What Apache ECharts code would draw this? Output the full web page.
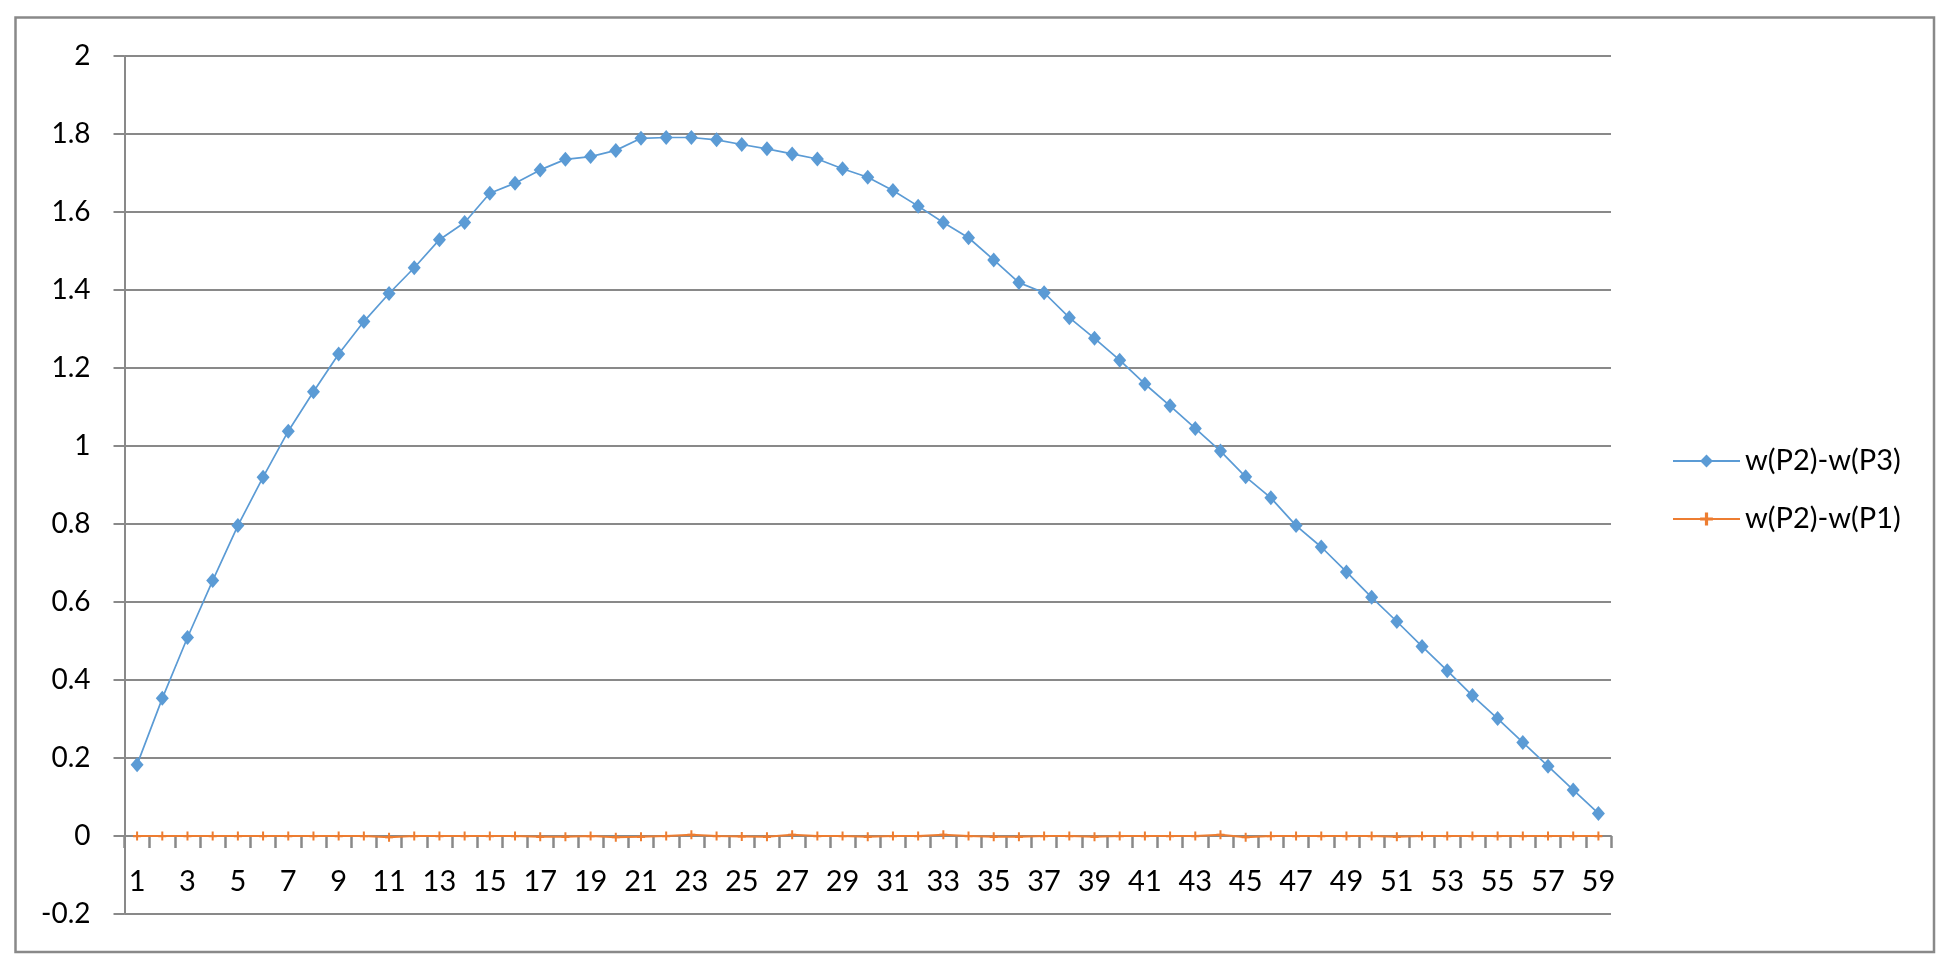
<!DOCTYPE html>
<html>
<head>
<meta charset="utf-8">
<script src="https://cdn.jsdelivr.net/npm/echarts@6/dist/echarts.min.js"></script>
<style>
html,body{margin:0;padding:0;background:#fff;}
#chart{width:1953px;height:965px;}
</style>
</head>
<body>
<div id="chart"></div>
<script>
const categories = ['1','2','3','4','5','6','7','8','9','10','11','12','13','14','15','16','17','18','19','20',
  '21','22','23','24','25','26','27','28','29','30','31','32','33','34','35','36','37','38','39','40',
  '41','42','43','44','45','46','47','48','49','50','51','52','53','54','55','56','57','58','59'];

const seriesNames = ['w(P2)-w(P3)', 'w(P2)-w(P1)'];

const p2MinusP3 = [0.183,0.353,0.509,0.655,0.796,0.920,1.038,1.139,1.236,1.319,
  1.391,1.457,1.529,1.573,1.648,1.674,1.708,1.735,1.742,1.758,
  1.789,1.791,1.791,1.785,1.773,1.762,1.749,1.736,1.711,1.689,
  1.655,1.615,1.573,1.534,1.477,1.419,1.393,1.329,1.276,1.220,
  1.159,1.103,1.045,0.987,0.921,0.867,0.796,0.741,0.677,0.612,
  0.550,0.486,0.424,0.360,0.301,0.240,0.179,0.118,0.058];

const p2MinusP1 = [0,0,0,0,0,0,0,0,0,0,
  -0.003,0,0,0,0,0,-0.002,-0.002,0,-0.003,
  -0.002,0,0.003,0,-0.001,-0.002,0.003,0,0,-0.002,
  0,0,0.003,0,-0.002,-0.002,0,0,-0.002,0,
  0,0,0,0.003,-0.003,0,0,0,0,0,
  -0.002,0,0,0,0,0,0,0,0];

const yMin = -0.2, yMax = 2, yStep = 0.2;

const gray = '#898989';
const font = 'Lato, "Liberation Sans", sans-serif';
const plusSymbol = 'path://M3,0h2v3h3v2h-3v3h-2v-3h-3v-2h3z';

const chart = echarts.init(document.getElementById('chart'), null, {renderer:'canvas'});
chart.setOption({
  animation: false,
  backgroundColor: '#ffffff',
  graphic: [{
    type: 'rect',
    shape: {x: 15.5, y: 17.5, width: 1918.5, height: 934.5},
    style: {fill: 'none', stroke: gray, lineWidth: 2.5},
    silent: true, z: 0
  }],
  grid: {left: 124.5, right: 342, top: 56, bottom: 51, containLabel: false},
  legend: {
    orient: 'vertical',
    left: 1667,
    top: 441,
    itemWidth: 67,
    itemHeight: 16,
    itemGap: 28,
    textStyle: {fontFamily: font, fontSize: 29, color: '#000', lineHeight: 30, padding: [0,0,0,0]},
    data: seriesNames
  },
  xAxis: {
    type: 'category',
    data: categories,
    boundaryGap: true,
    axisLine: {onZero: true, lineStyle: {color: gray, width: 2}},
    axisTick: {show: true, interval: 0, length: 12, lineStyle: {color: gray, width: 2.5}},
    axisLabel: {interval: 1, margin: -47, fontFamily: font, fontSize: 29, color: '#000'},
    splitLine: {show: false}
  },
  yAxis: {
    type: 'value',
    min: yMin, max: yMax, interval: yStep,
    axisLine: {show: true, lineStyle: {color: gray, width: 2}},
    axisTick: {show: true, length: 11, lineStyle: {color: gray, width: 2}},
    axisLabel: {margin: 34, fontFamily: font, fontSize: 28, color: '#000'},
    splitLine: {show: true, lineStyle: {color: gray, width: 2}}
  },
  series: [{
    name: seriesNames[0],
    type: 'line',
    data: p2MinusP3,
    color: '#5B9BD5',
    lineStyle: {width: 1.7, color: '#5B9BD5'},
    symbol: 'diamond',
    symbolSize: [13, 15],
    itemStyle: {color: '#5B9BD5'},
    z: 3
  }, {
    name: seriesNames[1],
    type: 'line',
    data: p2MinusP1,
    color: '#ED7D31',
    lineStyle: {width: 2, color: '#ED7D31'},
    symbol: plusSymbol,
    symbolSize: [8, 9],
    itemStyle: {color: '#ED7D31'},
    z: 4
  }]
});
</script>
</body>
</html>
